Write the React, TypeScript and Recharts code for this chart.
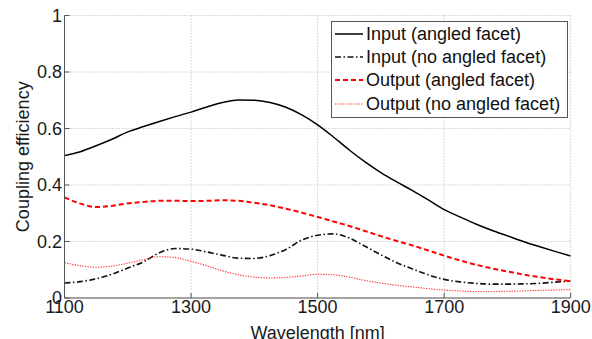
import React from 'react';
import { ComposedChart, Line, XAxis, YAxis, CartesianGrid, Legend } from 'recharts';

const wavelengths = [
  1100, 1125, 1150, 1175, 1200, 1225, 1250, 1275, 1300, 1325, 1350, 1375, 1400, 1425, 1450, 1475,
  1500, 1525, 1550, 1575, 1600, 1625, 1650, 1675, 1700, 1725, 1750, 1775, 1800, 1825, 1850, 1875, 1900,
];

const inputAngled = [
  0.504, 0.518, 0.539, 0.562, 0.588, 0.607, 0.625, 0.642, 0.658, 0.676, 0.692, 0.701, 0.7, 0.692, 0.675, 0.648,
  0.613, 0.57, 0.524, 0.482, 0.444, 0.411, 0.38, 0.347, 0.313, 0.287, 0.262, 0.24, 0.22, 0.2, 0.182, 0.165, 0.149,
];

const inputNoAngled = [
  0.053, 0.058, 0.068, 0.084, 0.106, 0.128, 0.16, 0.175, 0.173, 0.163, 0.151, 0.141, 0.14, 0.15, 0.172, 0.205,
  0.222, 0.227, 0.212, 0.183, 0.153, 0.125, 0.103, 0.082, 0.066, 0.057, 0.052, 0.049, 0.049, 0.05, 0.052, 0.056, 0.06,
];

const outputAngled = [
  0.356, 0.334, 0.322, 0.326, 0.335, 0.34, 0.344, 0.344, 0.343, 0.344, 0.346, 0.344, 0.337, 0.328, 0.316, 0.302,
  0.287, 0.271, 0.255, 0.237, 0.219, 0.202, 0.186, 0.168, 0.15, 0.133, 0.118, 0.105, 0.094, 0.083, 0.074, 0.066, 0.06,
];

const outputNoAngled = [
  0.125, 0.114, 0.109, 0.113, 0.123, 0.136, 0.146, 0.143, 0.13, 0.114, 0.096, 0.082, 0.074, 0.071, 0.073, 0.078,
  0.084, 0.082, 0.074, 0.062, 0.053, 0.045, 0.039, 0.033, 0.028, 0.025, 0.023, 0.023, 0.024, 0.025, 0.027, 0.028, 0.03,
];

const xTicks = [1100, 1300, 1500, 1700, 1900];
const yTicks = [0, 0.2, 0.4, 0.6, 0.8, 1];

const seriesNames = [
  'Input (angled facet)',
  'Input (no angled facet)',
  'Output (angled facet)',
  'Output (no angled facet)',
];

const series = [
  { key: 'inA', name: seriesNames[0], values: inputAngled, color: '#000000', width: 1.5, dash: undefined as string | undefined },
  { key: 'inN', name: seriesNames[1], values: inputNoAngled, color: '#111111', width: 1.6, dash: '6 2.5 1.5 2.5' },
  { key: 'outA', name: seriesNames[2], values: outputAngled, color: '#ff0000', width: 2, dash: '5 3' },
  { key: 'outN', name: seriesNames[3], values: outputNoAngled, color: '#ff3030', width: 1.1, dash: '1.3 1.3' },
];

const data = wavelengths.map((w, i) => {
  const row: Record<string, number> = { w };
  series.forEach((s) => {
    row[s.key] = s.values[i];
  });
  return row;
});

const FONT = '"Liberation Sans", Arial, Helvetica, sans-serif';
const BORDER = '#555555';

const LegendBox = () => (
  <div
    style={{
      boxSizing: 'border-box',
      width: 237,
      height: 97,
      border: `1px solid ${BORDER}`,
      background: '#ffffff',
      paddingTop: 0,
      paddingLeft: 3,
      fontFamily: FONT,
      fontSize: 18,
      color: '#111',
    }}
  >
    {series.map((s) => (
      <div key={s.key} style={{ display: 'flex', alignItems: 'center', height: 23.4, whiteSpace: 'nowrap' }}>
        <svg width={31} height={10} style={{ flex: 'none' }}>
          <line x1={0} y1={5} x2={28} y2={5} stroke={s.color} strokeWidth={s.width} strokeDasharray={s.dash} />
        </svg>
        <span style={{ lineHeight: '20px' }}>{s.name}</span>
      </div>
    ))}
  </div>
);

const fmtY = (v: number) => (v === 0 ? '0' : v === 1 ? '1' : v.toFixed(1));

export default function App() {
  return (
    <div style={{ position: 'absolute', left: 0, top: 0, width: 592, height: 339, background: '#fff' }}>
      <ComposedChart
        width={592}
        height={339}
        data={data}
        margin={{ top: 15.5, right: 21.3, left: 0, bottom: 0 }}
        style={{ fontFamily: FONT }}
      >
        <CartesianGrid stroke="#b5b5b5" strokeDasharray="1 2" strokeWidth={1} />
        <XAxis
          dataKey="w"
          type="number"
          domain={[1100, 1900]}
          ticks={xTicks}
          interval={0}
          height={41}
          stroke={BORDER}
          tickSize={-5}
          tickMargin={7}
          tick={{ fill: '#1a1a1a', fontSize: 18, fontFamily: FONT }}
          allowDataOverflow
          label={{
            content: (props: any) => {
              const vb = props.viewBox || {};
              return (
                <text
                  x={vb.x + vb.width / 2}
                  y={vb.y + vb.height}
                  textAnchor="middle"
                  fontSize={18}
                  fontFamily={FONT}
                  fill="#1a1a1a"
                >
                  Wavelength [nm]
                </text>
              );
            },
          }}
        />
        <XAxis
          xAxisId="top"
          dataKey="w"
          type="number"
          orientation="top"
          domain={[1100, 1900]}
          ticks={xTicks}
          height={0}
          stroke={BORDER}
          tickSize={-5}
          tick={false}
        />
        <YAxis
          type="number"
          domain={[0, 1]}
          ticks={yTicks}
          interval={0}
          width={64.5}
          stroke={BORDER}
          tickSize={-5}
          tickMargin={7.5}
          tickFormatter={fmtY}
          tick={{ fill: '#1a1a1a', fontSize: 18, fontFamily: FONT }}
          label={{
            content: (props: any) => {
              const vb = props.viewBox || {};
              const cx = vb.x + 23;
              const cy = vb.y + vb.height / 2;
              return (
                <text
                  x={cx}
                  y={cy}
                  transform={`rotate(-90, ${cx}, ${cy})`}
                  textAnchor="middle"
                  dominantBaseline="central"
                  fontSize={18}
                  fontFamily={FONT}
                  fill="#1a1a1a"
                >
                  Coupling efficiency
                </text>
              );
            },
          }}
        />
        <YAxis
          yAxisId="right"
          orientation="right"
          type="number"
          domain={[0, 1]}
          ticks={yTicks}
          width={0}
          stroke={BORDER}
          tickSize={-5}
          tick={false}
        />
        {series.map((s) => (
          <Line
            key={s.key}
            dataKey={s.key}
            name={s.name}
            type="monotone"
            stroke={s.color}
            strokeWidth={s.width}
            strokeDasharray={s.dash}
            dot={false}
            activeDot={false}
            isAnimationActive={false}
          />
        ))}
        <Legend
          layout="vertical"
          align="center"
          verticalAlign="middle"
          content={() => <LegendBox />}
          wrapperStyle={{ position: 'absolute', left: 331, top: 21, width: 237, height: 97 }}
        />
      </ComposedChart>
    </div>
  );
}
